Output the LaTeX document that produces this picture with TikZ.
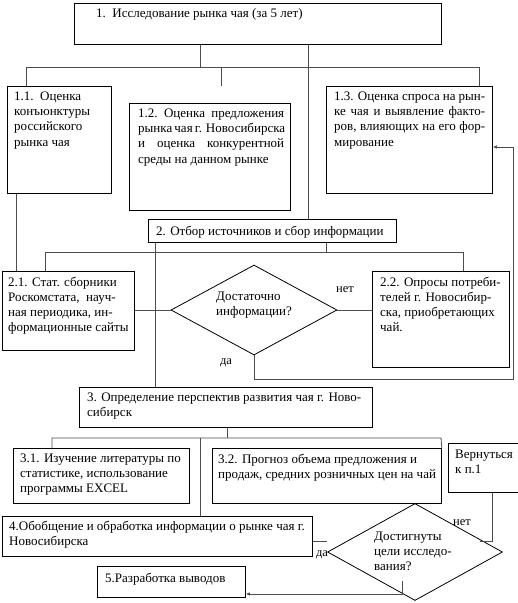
\documentclass[tikz,border=0pt]{standalone}
\usepackage{fontspec}
\setmainfont{Liberation Serif}
\usetikzlibrary{arrows.meta,shapes.geometric,calc}
\begin{document}
\begin{tikzpicture}[x=1pt,y=-1pt,
  box/.style={draw, line width=0.8pt, inner sep=0pt, anchor=north west},
  txt/.style={inner sep=0pt, anchor=north west, align=left, font=\fontsize{13}{15.3}\selectfont},
  dia/.style={draw, diamond, inner sep=0pt, line width=0.8pt},
  conn/.style={line width=0.8pt, draw=black!70},
  arr/.style={conn, -{Latex[length=4pt,width=3.5pt]}},
  lab/.style={inner sep=0pt, font=\fontsize{12.5}{14}\selectfont}]
\useasboundingbox (0,0) rectangle (518,603);
% boxes
\node[box, minimum width=367pt, minimum height=41pt] (b1) at (74,3) {};
\node[box, minimum width=104pt, minimum height=107pt] (b11) at (7,86) {};
\node[box, minimum width=161pt, minimum height=107pt] (b12) at (129,103) {};
\node[box, minimum width=166pt, minimum height=107pt] (b13) at (326,86) {};
\node[box, minimum width=248pt, minimum height=23pt] (b2) at (148,219) {};
\node[box, minimum width=132pt, minimum height=79pt] (b21) at (2,271) {};
\node[dia, minimum width=166pt, minimum height=90pt] (d1) at (254,310) {};
\node[box, minimum width=137pt, minimum height=96pt] (b22) at (372,271) {};
\node[box, minimum width=293pt, minimum height=40pt] (b3) at (79,387) {};
\node[box, minimum width=176pt, minimum height=55pt] (b31) at (13,448) {};
\node[box, minimum width=229pt, minimum height=55pt] (b32) at (212,448) {};
\node[box, minimum width=80pt, minimum height=49pt] (bv) at (448,443) {};
\node[box, minimum width=310pt, minimum height=40pt] (b4) at (2,516) {};
\node[dia, minimum width=175pt, minimum height=97pt] (d2) at (415,552) {};
\node[box, minimum width=148pt, minimum height=31pt] (b5) at (97,566) {};
% texts
\node[txt] (t1) at (96,8.5) {1.\ \ Исследование рынка чая (за 5 лет)};
\node[txt] (t11) at (14,91.5) {1.1.\ \ Оценка\\конъюнктуры\\российского\\рынка чая};
\node[txt] (t12) at (138,108.5) {\makebox[146pt][s]{1.2.\ \ Оценка\ \ предложения}\\\makebox[146pt][s]{рынка чая г. Новосибирска}\\\makebox[146pt][s]{и\ \ оценка\ \ конкурентной}\\среды на данном рынке};
\node[txt] (t13) at (334,91.5) {\makebox[151pt][s]{1.3. Оценка спроса на рын-}\\\makebox[151pt][s]{ке чая и выявление факто-}\\\makebox[151pt][s]{ров, влияющих на его фор-}\\мирование};
\node[txt] (t2) at (156,225.5) {2. Отбор источников и сбор информации};
\node[txt] (t21) at (8,276.5) {2.1. Стат. сборники\\Роскомстата,\ \ науч-\\ная периодика, ин-\\формационные сайты};
\node[txt] (dt1) at (216,291.5) {Достаточно\\информации?};
\node[txt] (t22) at (380,276.5) {2.2. Опросы потреби-\\телей г. Новосибир-\\ска, приобретающих\\чай.};
\node[txt] (t3) at (87,392.5) {3. Определение перспектив развития чая г. Ново-\\сибирск};
\node[txt] (t31) at (20,453.5) {3.1. Изучение литературы по\\статистике, использование\\программы EXCEL};
\node[txt] (t32) at (218,453.5) {3.2. Прогноз объема предложения и\\продаж, средних розничных цен на чай};
\node[txt] (tv) at (455,449.5) {Вернуться\\к п.1};
\node[txt] (t4) at (9,520.5) {4.Обобщение и обработка информации о рынке чая г.\\Новосибирска};
\node[txt] (dt2) at (374,531.5) {Достигнуты\\цели исследо-\\вания?};
\node[txt] (t5) at (105,572.5) {5.Разработка выводов};
% labels
\node[lab] (ln1) at (345,290) {нет};
\node[lab] (ld1) at (226,363) {да};
\node[lab] (ln2) at (462,523) {нет};
\node[lab] (ld2) at (322,555) {да};
% connectors level 1
\coordinate (j1) at (200,67);
\coordinate (hL) at (26,67);
\coordinate (hR) at (479,67);
\coordinate (s12) at (221,86);
\draw[conn] (j1 |- b1.south) -- (j1);
\draw[conn] (hL |- b11.north) -- (hL) -- (hR) -- (hR |- b13.north);
\draw[conn] (s12 |- hL) -- (s12);
\coordinate (v2) at (308,0);
\draw[conn] (v2 |- b1.south) -- (v2 |- b2.north);
\coordinate (v11) at (16,0);
\draw[conn] (v11 |- b11.south) -- (v11 |- b21.north);
% level 2
\coordinate (j2) at (326,252);
\coordinate (h2L) at (45,252);
\coordinate (h2R) at (463,252);
\draw[conn] (j2 |- b2.south) -- (j2);
\draw[conn] (h2L |- b21.north) -- (h2L) -- (h2R) -- (h2R |- b22.north);
\coordinate (v3) at (155,0);
\draw[conn] (v3 |- b2.south) -- (v3 |- b3.north);
\draw[conn] (d1.west -| b21.east) -- (d1.west);
\draw[conn] (d1.east) -- (d1.east -| b22.west);
\coordinate (r1) at (254,379);
\coordinate (r2) at (513,379);
\coordinate (a13y) at (0,147);
\draw[arr] (d1.south) -- (r1) -- (r2) -- (r2 |- a13y) -- (b13.east |- a13y);
% level 3
\coordinate (j3) at (227,438);
\coordinate (h3L) at (52,438);
\coordinate (h3R) at (441,438);
\draw[conn] (j3 |- b3.south) -- (j3);
\draw[conn] (h3L |- b31.north) -- (h3L) -- (h3R) -- (b32.north east);
\coordinate (v4) at (200,438);
\draw[conn] (v4) -- (v4 |- b4.north);
\coordinate (rv) at (492,541);
\coordinate (rvend) at (480,541);
\draw[conn] (rv |- bv.south) -- (rv) -- (rvend);
\coordinate (s4) at (327,541);
\draw[conn] (b4.east |- s4) -- (s4);
\coordinate (q1) at (402,581);
\coordinate (q2) at (402,594);
\draw[arr] (q1) -- (q2) -- (b5.east |- q2);
\end{tikzpicture}
\end{document}
